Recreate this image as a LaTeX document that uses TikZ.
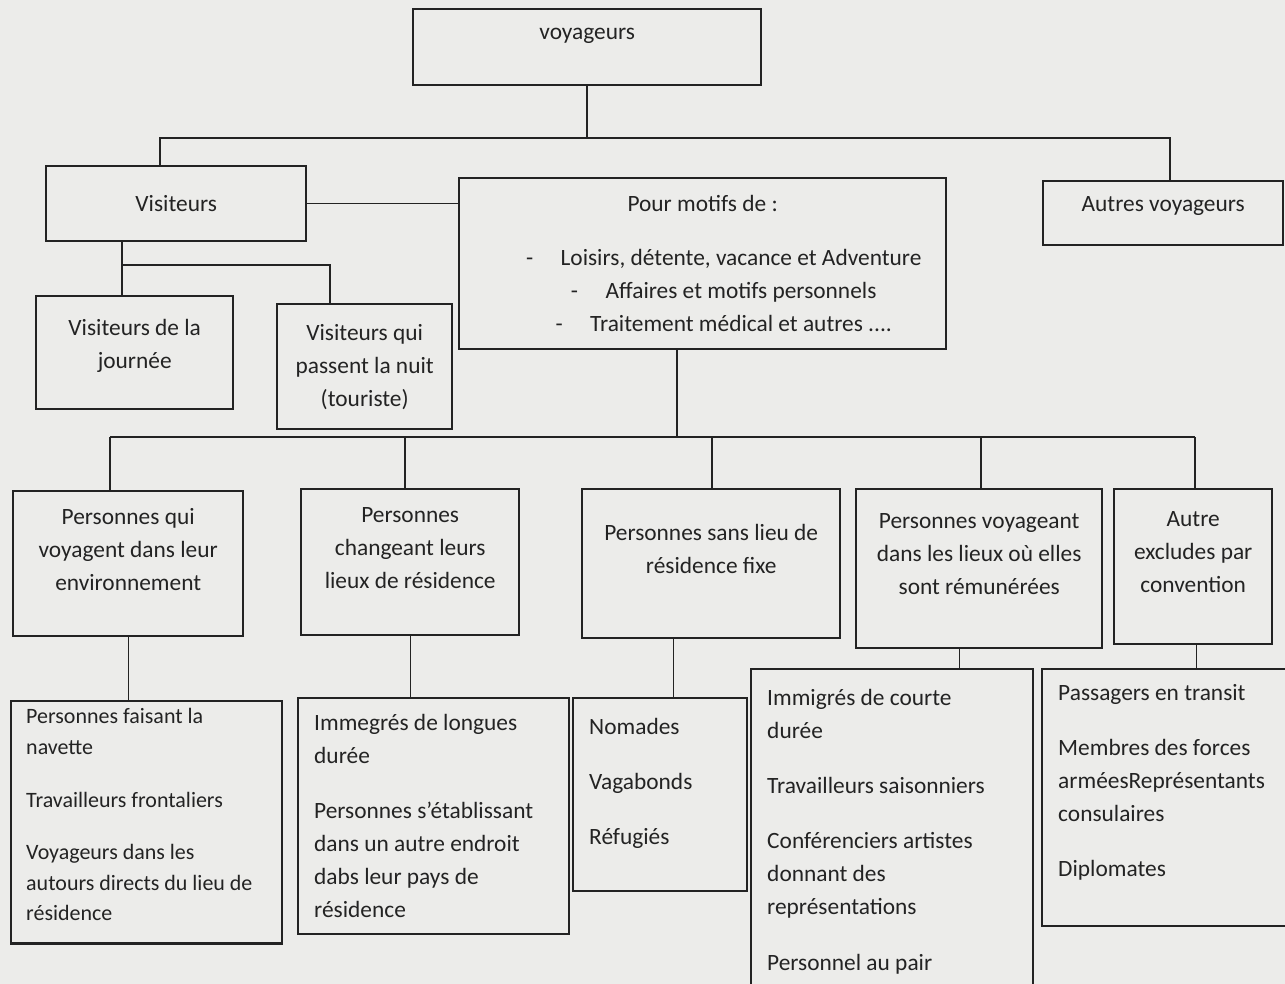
\documentclass[tikz,border=0pt]{standalone}
\usepackage{fontspec}
\setmainfont{Carlito}
\usetikzlibrary{positioning}
\definecolor{paper}{HTML}{ECECEA}
\definecolor{ink}{HTML}{232323}
\tikzset{
  every picture/.style={font=\fontsize{13.3}{18.8}\selectfont, line width=0.8pt},
  box/.style={draw=ink, text=ink, line width=1.4pt, anchor=north west, align=center, inner xsep=0.2cm, inner ysep=0.15cm},
  listbox/.style={box, align=flush left, inner xsep=0.32cm},
  link/.style={draw=ink, line width=0.8pt},
}
\newcommand{\gap}{\\[0.44cm]}
\newcommand{\lift}[1]{\rule[-#1]{0pt}{#1}}

\begin{document}
\begin{tikzpicture}[x=0.02cm, y=-0.02cm]
  \path[use as bounding box, fill=paper] (0,0) rectangle (1285,984);

  % top levels
  \node[box, minimum width=6.96cm, text height=0.4cm, text depth=0.72cm, inner ysep=0.2cm] (voy) at (412,8) {voyageurs};
  \node[box, minimum width=5.2cm, minimum height=1.5cm] (vis) at (45,165) {Visiteurs};
  \node[box, minimum width=9.74cm, minimum height=3.42cm] (motifs) at (458,177)
    {Pour motifs de :\\[0.42cm]
     \hspace*{0.84cm}-\hspace{0.55cm}Loisirs, détente, vacance et Adventure\\
     \hspace*{0.84cm}-\hspace{0.55cm}Affaires et motifs personnels\\
     \hspace*{0.84cm}-\hspace{0.55cm}Traitement médical et autres ....};
  \node[box, minimum width=4.8cm, minimum height=1.28cm, text depth=0.36cm] (autres) at (1042,180) {Autres voyageurs};
  \node[box, minimum width=3.94cm, minimum height=2.26cm, text depth=0.36cm] (journee) at (35,295) {Visiteurs de la\\journée};
  \node[box, minimum width=3.5cm, minimum height=2.5cm] (nuit) at (276,303) {Visiteurs qui\\passent la nuit\\(touriste)};

  % categories
  \begin{scope}[every node/.append style={text depth=0.58cm}]
  \node[box, minimum width=4.6cm, minimum height=2.9cm] (p1) at (12,490) {Personnes qui\\voyagent dans leur\\environnement};
  \node[box, minimum width=4.36cm, minimum height=2.92cm] (p2) at (300,488) {Personnes\\changeant leurs\\lieux de résidence};
  \node[box, minimum width=5.16cm, minimum height=2.98cm] (p3) at (581,488) {Personnes sans lieu de\\résidence fixe};
  \node[box, minimum width=4.92cm, minimum height=3.18cm] (p4) at (855,488) {Personnes voyageant\\dans les lieux où elles\\sont rémunérées};
  \node[box, minimum width=3.16cm, minimum height=3.1cm] (p5) at (1113,488) {Autre\\excludes par\\convention};
  \end{scope}

  % examples
  \node[listbox, text width=4.82cm, inner xsep=0.3cm, minimum height=4.8cm, font=\fontsize{12.5}{17.4}\selectfont] (l1) at (10,700)
    {Personnes faisant la\\navette\gap Travailleurs frontaliers\gap Voyageurs dans les\\autours directs du lieu de\\résidence\lift{0.3cm}};
  \node[listbox, text width=4.78cm, minimum height=4.72cm] (l2) at (297,697)
    {Immegrés de longues\\durée\gap Personnes s’établissant\\dans un autre endroit\\dabs leur pays de\\résidence};
  \node[listbox, text width=2.84cm, minimum height=3.86cm] (l3) at (572,697)
    {Nomades\gap Vagabonds\gap Réfugiés\lift{0.54cm}};
  \node[listbox, text width=5.0cm, minimum height=6.5cm] (l4) at (750,668)
    {Immigrés de courte\\durée\gap Travailleurs saisonniers\gap Conférenciers artistes\\donnant des\\représentations\gap Personnel au pair};
  \node[listbox, text width=4.24cm, minimum height=5.14cm] (l5) at (1041,668)
    {Passagers en transit\gap Membres des forces\\arméesReprésentants\\consulaires\gap Diplomates\lift{0.7cm}};

  % connectors
  \coordinate (bar1w) at (160,138);
  \coordinate (bar1e) at (1170,138);
  \draw[link] (voy.south) -- (voy.south |- bar1w);
  \draw[link] (vis.north -| bar1w) -- (bar1w) -- (bar1e) -- (autres.north -| bar1e);
  \draw[link] (vis.east) -- (motifs.west |- vis.east);

  \coordinate (bar2w) at (122,265);
  \coordinate (bar2e) at (330,265);
  \draw[link] (vis.south -| bar2w) -- (journee.north -| bar2w);
  \draw[link] (bar2w) -- (bar2e) -- (nuit.north -| bar2e);

  \coordinate (bar3w) at (110,437);
  \coordinate (bar3m) at (677,437);
  \coordinate (bar3e) at (1195,437);
  \draw[link] (motifs.south -| bar3m) -- (bar3m);
  \draw[link] (bar3w) -- (bar3e);
  \foreach \n/\x in {p1/110, p2/405, p3/712, p4/981, p5/1195} {
    \coordinate (drop) at (\x,437);
    \draw[link] (drop) -- (\n.north -| drop);
  }

  \foreach \a/\b/\dx in {p1/l1/0, p2/l2/0, p3/l3/-38, p4/l4/-20, p5/l5/3}
    \draw[link] ([xshift=\dx*0.02cm]\a.south) -- ([xshift=\dx*0.02cm]\a.south |- \b.north);
\end{tikzpicture}
\end{document}
